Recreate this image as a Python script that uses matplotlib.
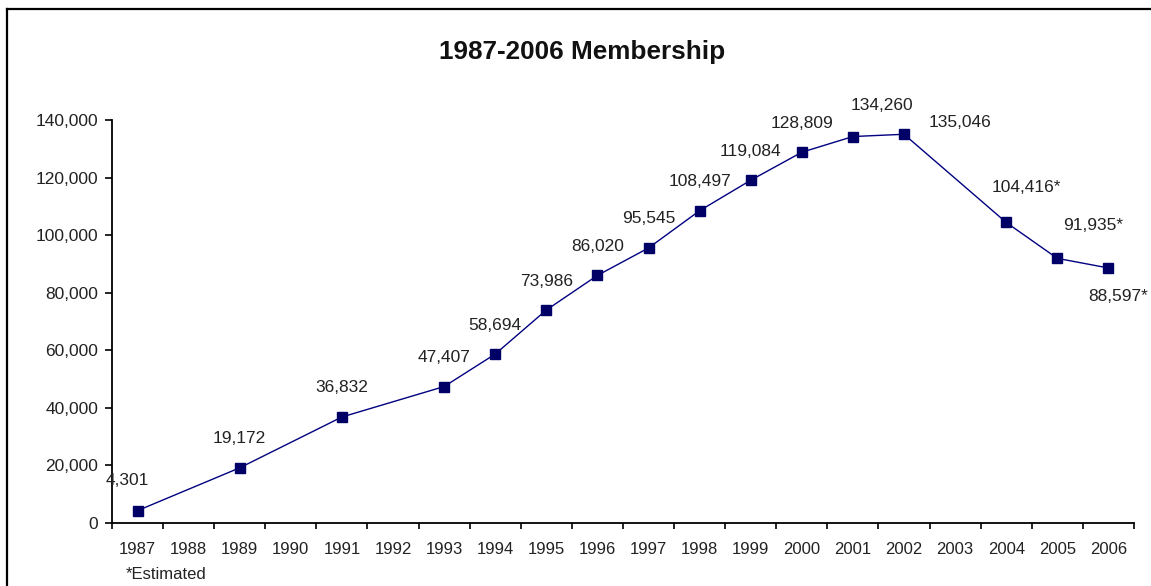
import matplotlib
matplotlib.use('Agg')
import matplotlib.pyplot as plt
from matplotlib.lines import Line2D
from matplotlib.ticker import FuncFormatter

plt.rcParams['font.family'] = ['Liberation Sans', 'DejaVu Sans']

# category axis, one slot per year
years = [str(y) for y in range(1987, 2007)]

# membership counts (no figure for 1988, 1990, 1992, 2003)
member_years = ['1987', '1989', '1991', '1993', '1994', '1995', '1996', '1997',
                '1998', '1999', '2000', '2001', '2002', '2004', '2005', '2006']
members = [4301, 19172, 36832, 47407, 58694, 73986, 86020, 95545,
           108497, 119084, 128809, 134260, 135046, 104416, 91935, 88597]
estimated = ['2004', '2005', '2006']

# label nudges in pixels (dx, dy) relative to each marker
label_offsets = {'1987': (-10, 30), '2001': (29, 31), '2002': (56, 12),
                 '2004': (20, 35), '2005': (36, 33), '2006': (10, -29)}

fig = plt.figure(figsize=(11.51, 5.86), dpi=100)
ax = fig.add_axes([0.0973, 0.1075, 0.8879, 0.6877])

xs = [years.index(y) for y in member_years]
ax.plot(xs, members, color='#000080', lw=1, marker='s', ms=7,
        mfc='#000066', mec='#000066', zorder=3)

for x, y, v in zip(xs, members, member_years):
    txt = f'{y:,}' + ('*' if v in estimated else '')
    dx, dy = label_offsets.get(v, (0, 29))
    ax.annotate(txt, (x, y), xytext=(dx, dy), textcoords='offset pixels',
                ha='center', va='center', fontsize=12.5, color='#222222')

ax.set_xlim(-0.5, len(years) - 0.5)
ax.set_ylim(0, 140000)
ax.set_yticks(range(0, 140001, 20000))
ax.yaxis.set_major_formatter(FuncFormatter(lambda v, p: f'{int(v):,}'))

# ticks sit between categories, labels at the centres
ax.set_xticks([i - 0.5 for i in range(len(years) + 1)])
ax.set_xticklabels([])
ax.set_xticks(range(len(years)), minor=True)
ax.set_xticklabels(years, minor=True)
ax.tick_params(axis='x', which='major', direction='out', length=4, width=1.2)
ax.tick_params(axis='x', which='minor', length=0, pad=13.5, labelsize=12,
               labelcolor='#222222')
ax.tick_params(axis='y', direction='out', length=5, width=1.2, pad=5,
               labelsize=12.5, labelcolor='#222222')

for s in ['top', 'right']:
    ax.spines[s].set_visible(False)
for s in ['left', 'bottom']:
    ax.spines[s].set_linewidth(1.3)

fig.text(0.5056, 0.911, '1987-2006 Membership', ha='center', va='center',
         fontsize=18.8, fontweight='bold', color='#111111')
fig.text(0.109, 0.019, '*Estimated', ha='left', va='center', fontsize=12,
         color='#222222')

# chart frame, running off the right and bottom edges
fig.add_artist(Line2D([6.5 / 1151, 6.5 / 1151], [0, 1 - 8.5 / 586],
                      transform=fig.transFigure, color='black', lw=1.6))
fig.add_artist(Line2D([6.5 / 1151, 1], [1 - 8.5 / 586, 1 - 8.5 / 586],
                      transform=fig.transFigure, color='black', lw=1.6))

fig.savefig('out.png', dpi=100, facecolor='white')
